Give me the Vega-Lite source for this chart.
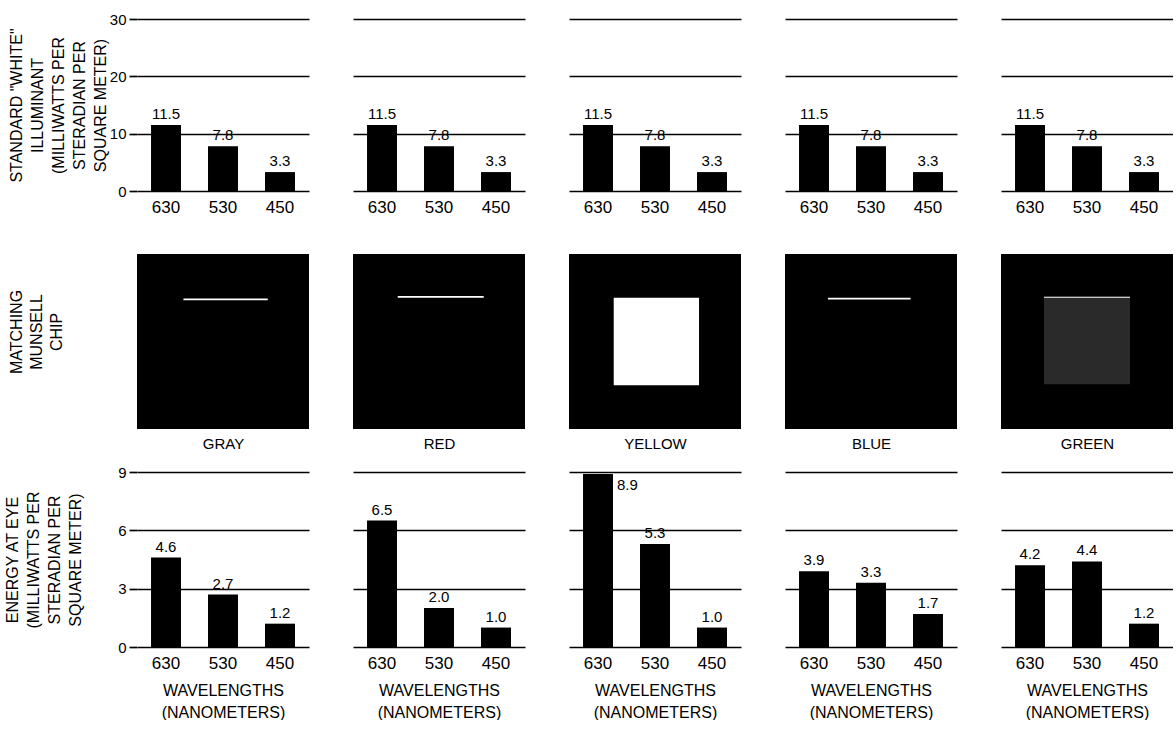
{
  "$schema": "https://vega.github.io/schema/vega-lite/v6.json",
  "background": "white",
  "padding": {"left": 4, "top": 12, "right": 0, "bottom": 0},
  "datasets": {
    "illuminant": [
      {"chip": "GRAY", "wavelength": 630, "value": 11.5}, {"chip": "GRAY", "wavelength": 530, "value": 7.8}, {"chip": "GRAY", "wavelength": 450, "value": 3.3},
      {"chip": "RED", "wavelength": 630, "value": 11.5}, {"chip": "RED", "wavelength": 530, "value": 7.8}, {"chip": "RED", "wavelength": 450, "value": 3.3},
      {"chip": "YELLOW", "wavelength": 630, "value": 11.5}, {"chip": "YELLOW", "wavelength": 530, "value": 7.8}, {"chip": "YELLOW", "wavelength": 450, "value": 3.3},
      {"chip": "BLUE", "wavelength": 630, "value": 11.5}, {"chip": "BLUE", "wavelength": 530, "value": 7.8}, {"chip": "BLUE", "wavelength": 450, "value": 3.3},
      {"chip": "GREEN", "wavelength": 630, "value": 11.5}, {"chip": "GREEN", "wavelength": 530, "value": 7.8}, {"chip": "GREEN", "wavelength": 450, "value": 3.3}
    ],
    "energy": [
      {"chip": "GRAY", "wavelength": 630, "value": 4.6}, {"chip": "GRAY", "wavelength": 530, "value": 2.7}, {"chip": "GRAY", "wavelength": 450, "value": 1.2},
      {"chip": "RED", "wavelength": 630, "value": 6.5}, {"chip": "RED", "wavelength": 530, "value": 2.0}, {"chip": "RED", "wavelength": 450, "value": 1.0},
      {"chip": "YELLOW", "wavelength": 630, "value": 8.9}, {"chip": "YELLOW", "wavelength": 530, "value": 5.3}, {"chip": "YELLOW", "wavelength": 450, "value": 1.0},
      {"chip": "BLUE", "wavelength": 630, "value": 3.9}, {"chip": "BLUE", "wavelength": 530, "value": 3.3}, {"chip": "BLUE", "wavelength": 450, "value": 1.7},
      {"chip": "GREEN", "wavelength": 630, "value": 4.2}, {"chip": "GREEN", "wavelength": 530, "value": 4.4}, {"chip": "GREEN", "wavelength": 450, "value": 1.2}
    ],
    "chips": [
      {"chip": "GRAY", "part": "chip", "x1": 0, "x2": 1, "y1": 0, "y2": 1},
      {"chip": "GRAY", "part": "highlight", "x1": 0.27, "x2": 0.76, "y1": 0.735, "y2": 0.745},
      {"chip": "RED", "part": "chip", "x1": 0, "x2": 1, "y1": 0, "y2": 1},
      {"chip": "RED", "part": "highlight", "x1": 0.26, "x2": 0.76, "y1": 0.75, "y2": 0.76},
      {"chip": "YELLOW", "part": "chip", "x1": 0, "x2": 1, "y1": 0, "y2": 1},
      {"chip": "YELLOW", "part": "highlight", "x1": 0.26, "x2": 0.756, "y1": 0.25, "y2": 0.75},
      {"chip": "BLUE", "part": "chip", "x1": 0, "x2": 1, "y1": 0, "y2": 1},
      {"chip": "BLUE", "part": "highlight", "x1": 0.25, "x2": 0.73, "y1": 0.74, "y2": 0.75},
      {"chip": "GREEN", "part": "chip", "x1": 0, "x2": 1, "y1": 0, "y2": 1},
      {"chip": "GREEN", "part": "inner", "x1": 0.25, "x2": 0.75, "y1": 0.255, "y2": 0.755},
      {"chip": "GREEN", "part": "highlight", "x1": 0.25, "x2": 0.75, "y1": 0.75, "y2": 0.756}
    ]
  },
  "columns": 5,
  "spacing": {"row": 43, "column": 44},
  "bounds": "flush",
  "align": "each",
  "concat": [
    {
      "width": 172, "height": 172,
      "data": {"name": "illuminant"},
      "transform": [{"filter": "datum.chip === 'GRAY'"}],
      "encoding": {
        "x": {"field": "wavelength", "type": "ordinal", "sort": "descending", "scale": {"paddingInner": 0.474, "paddingOuter": 0.246}, "axis": {"title": null, "domain": false, "ticks": false, "labelAngle": 0, "labelFontSize": 17, "labelPadding": 8}},
        "y": {"field": "value", "type": "quantitative", "scale": {"domain": [0, 30], "nice": false}, "axis": {"values": [0, 10, 20, 30], "grid": true, "domain": false, "tickSize": 8, "labelPadding": 3, "title": ["STANDARD \"WHITE\"", "ILLUMINANT", "(MILLIWATTS PER", "STERADIAN PER", "SQUARE METER)"], "titleX": -113, "titleLineHeight": 21}}
      },
      "layer": [
        {"mark": {"type": "bar", "color": "black"}},
        {"mark": {"type": "text", "baseline": "alphabetic", "dy": -6, "fontSize": 15}, "encoding": {"text": {"field": "value", "type": "quantitative", "format": ".1f"}}}
      ]
    },
    {
      "width": 172, "height": 172,
      "data": {"name": "illuminant"},
      "transform": [{"filter": "datum.chip === 'RED'"}],
      "encoding": {
        "x": {"field": "wavelength", "type": "ordinal", "sort": "descending", "scale": {"paddingInner": 0.474, "paddingOuter": 0.246}, "axis": {"title": null, "domain": false, "ticks": false, "labelAngle": 0, "labelFontSize": 17, "labelPadding": 8}},
        "y": {"field": "value", "type": "quantitative", "scale": {"domain": [0, 30], "nice": false}, "axis": {"values": [0, 10, 20, 30], "grid": true, "domain": false, "ticks": false, "labels": false, "title": null}}
      },
      "layer": [
        {"mark": {"type": "bar", "color": "black"}},
        {"mark": {"type": "text", "baseline": "alphabetic", "dy": -6, "fontSize": 15}, "encoding": {"text": {"field": "value", "type": "quantitative", "format": ".1f"}}}
      ]
    },
    {
      "width": 172, "height": 172,
      "data": {"name": "illuminant"},
      "transform": [{"filter": "datum.chip === 'YELLOW'"}],
      "encoding": {
        "x": {"field": "wavelength", "type": "ordinal", "sort": "descending", "scale": {"paddingInner": 0.474, "paddingOuter": 0.246}, "axis": {"title": null, "domain": false, "ticks": false, "labelAngle": 0, "labelFontSize": 17, "labelPadding": 8}},
        "y": {"field": "value", "type": "quantitative", "scale": {"domain": [0, 30], "nice": false}, "axis": {"values": [0, 10, 20, 30], "grid": true, "domain": false, "ticks": false, "labels": false, "title": null}}
      },
      "layer": [
        {"mark": {"type": "bar", "color": "black"}},
        {"mark": {"type": "text", "baseline": "alphabetic", "dy": -6, "fontSize": 15}, "encoding": {"text": {"field": "value", "type": "quantitative", "format": ".1f"}}}
      ]
    },
    {
      "width": 172, "height": 172,
      "data": {"name": "illuminant"},
      "transform": [{"filter": "datum.chip === 'BLUE'"}],
      "encoding": {
        "x": {"field": "wavelength", "type": "ordinal", "sort": "descending", "scale": {"paddingInner": 0.474, "paddingOuter": 0.246}, "axis": {"title": null, "domain": false, "ticks": false, "labelAngle": 0, "labelFontSize": 17, "labelPadding": 8}},
        "y": {"field": "value", "type": "quantitative", "scale": {"domain": [0, 30], "nice": false}, "axis": {"values": [0, 10, 20, 30], "grid": true, "domain": false, "ticks": false, "labels": false, "title": null}}
      },
      "layer": [
        {"mark": {"type": "bar", "color": "black"}},
        {"mark": {"type": "text", "baseline": "alphabetic", "dy": -6, "fontSize": 15}, "encoding": {"text": {"field": "value", "type": "quantitative", "format": ".1f"}}}
      ]
    },
    {
      "width": 172, "height": 172,
      "data": {"name": "illuminant"},
      "transform": [{"filter": "datum.chip === 'GREEN'"}],
      "encoding": {
        "x": {"field": "wavelength", "type": "ordinal", "sort": "descending", "scale": {"paddingInner": 0.474, "paddingOuter": 0.246}, "axis": {"title": null, "domain": false, "ticks": false, "labelAngle": 0, "labelFontSize": 17, "labelPadding": 8}},
        "y": {"field": "value", "type": "quantitative", "scale": {"domain": [0, 30], "nice": false}, "axis": {"values": [0, 10, 20, 30], "grid": true, "domain": false, "ticks": false, "labels": false, "title": null}}
      },
      "layer": [
        {"mark": {"type": "bar", "color": "black"}},
        {"mark": {"type": "text", "baseline": "alphabetic", "dy": -6, "fontSize": 15}, "encoding": {"text": {"field": "value", "type": "quantitative", "format": ".1f"}}}
      ]
    },
    {
      "width": 172, "height": 195,
      "data": {"name": "chips"},
      "transform": [{"filter": "datum.chip === 'GRAY'"}],
      "mark": {"type": "rect"},
      "encoding": {
        "x": {"field": "x1", "type": "quantitative", "scale": {"domain": [0, 1], "nice": false, "zero": false}, "axis": {"title": "GRAY", "labels": false, "ticks": false, "domain": false, "grid": false, "titlePadding": 7, "titleFontSize": 15}},
        "x2": {"field": "x2"},
        "y": {"field": "y1", "type": "quantitative", "scale": {"domain": [0, 1.114], "nice": false, "zero": false}, "axis": {"title": ["MATCHING", "MUNSELL", "CHIP"], "labels": false, "ticks": false, "domain": false, "grid": false, "titleX": -113, "titleLineHeight": 20}},
        "y2": {"field": "y2"},
        "color": {"field": "part", "type": "nominal", "scale": {"domain": ["chip", "highlight", "inner"], "range": ["#000000", "#ffffff", "#2a2a2a"]}, "legend": null}
      }
    },
    {
      "width": 172, "height": 195,
      "data": {"name": "chips"},
      "transform": [{"filter": "datum.chip === 'RED'"}],
      "mark": {"type": "rect"},
      "encoding": {
        "x": {"field": "x1", "type": "quantitative", "scale": {"domain": [0, 1], "nice": false, "zero": false}, "axis": {"title": "RED", "labels": false, "ticks": false, "domain": false, "grid": false, "titlePadding": 7, "titleFontSize": 15}},
        "x2": {"field": "x2"},
        "y": {"field": "y1", "type": "quantitative", "scale": {"domain": [0, 1.114], "nice": false, "zero": false}, "axis": null},
        "y2": {"field": "y2"},
        "color": {"field": "part", "type": "nominal", "scale": {"domain": ["chip", "highlight", "inner"], "range": ["#000000", "#ffffff", "#2a2a2a"]}, "legend": null}
      }
    },
    {
      "width": 172, "height": 195,
      "data": {"name": "chips"},
      "transform": [{"filter": "datum.chip === 'YELLOW'"}],
      "mark": {"type": "rect"},
      "encoding": {
        "x": {"field": "x1", "type": "quantitative", "scale": {"domain": [0, 1], "nice": false, "zero": false}, "axis": {"title": "YELLOW", "labels": false, "ticks": false, "domain": false, "grid": false, "titlePadding": 7, "titleFontSize": 15}},
        "x2": {"field": "x2"},
        "y": {"field": "y1", "type": "quantitative", "scale": {"domain": [0, 1.114], "nice": false, "zero": false}, "axis": null},
        "y2": {"field": "y2"},
        "color": {"field": "part", "type": "nominal", "scale": {"domain": ["chip", "highlight", "inner"], "range": ["#000000", "#ffffff", "#2a2a2a"]}, "legend": null}
      }
    },
    {
      "width": 172, "height": 195,
      "data": {"name": "chips"},
      "transform": [{"filter": "datum.chip === 'BLUE'"}],
      "mark": {"type": "rect"},
      "encoding": {
        "x": {"field": "x1", "type": "quantitative", "scale": {"domain": [0, 1], "nice": false, "zero": false}, "axis": {"title": "BLUE", "labels": false, "ticks": false, "domain": false, "grid": false, "titlePadding": 7, "titleFontSize": 15}},
        "x2": {"field": "x2"},
        "y": {"field": "y1", "type": "quantitative", "scale": {"domain": [0, 1.114], "nice": false, "zero": false}, "axis": null},
        "y2": {"field": "y2"},
        "color": {"field": "part", "type": "nominal", "scale": {"domain": ["chip", "highlight", "inner"], "range": ["#000000", "#ffffff", "#2a2a2a"]}, "legend": null}
      }
    },
    {
      "width": 172, "height": 195,
      "data": {"name": "chips"},
      "transform": [{"filter": "datum.chip === 'GREEN'"}],
      "mark": {"type": "rect"},
      "encoding": {
        "x": {"field": "x1", "type": "quantitative", "scale": {"domain": [0, 1], "nice": false, "zero": false}, "axis": {"title": "GREEN", "labels": false, "ticks": false, "domain": false, "grid": false, "titlePadding": 7, "titleFontSize": 15}},
        "x2": {"field": "x2"},
        "y": {"field": "y1", "type": "quantitative", "scale": {"domain": [0, 1.114], "nice": false, "zero": false}, "axis": null},
        "y2": {"field": "y2"},
        "color": {"field": "part", "type": "nominal", "scale": {"domain": ["chip", "highlight", "inner"], "range": ["#000000", "#ffffff", "#2a2a2a"]}, "legend": null}
      }
    },
    {
      "width": 172, "height": 175,
      "data": {"name": "energy"},
      "transform": [{"filter": "datum.chip === 'GRAY'"}],
      "encoding": {
        "x": {"field": "wavelength", "type": "ordinal", "sort": "descending", "scale": {"paddingInner": 0.474, "paddingOuter": 0.246}, "axis": {"title": ["WAVELENGTHS", "(NANOMETERS)"], "titleLineHeight": 22, "titlePadding": 11, "domain": false, "ticks": false, "labelAngle": 0, "labelFontSize": 17, "labelPadding": 8}},
        "y": {"field": "value", "type": "quantitative", "scale": {"domain": [0, 9], "nice": false}, "axis": {"values": [0, 3, 6, 9], "grid": true, "domain": false, "tickSize": 8, "labelPadding": 3, "title": ["ENERGY AT EYE", "(MILLIWATTS PER", "STERADIAN PER", "SQUARE METER)"], "titleX": -117, "titleLineHeight": 21}}
      },
      "layer": [
        {"mark": {"type": "bar", "color": "black"}},
        {"transform": [{"filter": "datum.value < 8.5"}], "mark": {"type": "text", "baseline": "alphabetic", "dy": -6, "fontSize": 15}, "encoding": {"text": {"field": "value", "type": "quantitative", "format": ".1f"}}},
        {"transform": [{"filter": "datum.value >= 8.5"}], "mark": {"type": "text", "baseline": "top", "align": "left", "dx": 19, "dy": 4, "fontSize": 15}, "encoding": {"text": {"field": "value", "type": "quantitative", "format": ".1f"}}}
      ]
    },
    {
      "width": 172, "height": 175,
      "data": {"name": "energy"},
      "transform": [{"filter": "datum.chip === 'RED'"}],
      "encoding": {
        "x": {"field": "wavelength", "type": "ordinal", "sort": "descending", "scale": {"paddingInner": 0.474, "paddingOuter": 0.246}, "axis": {"title": ["WAVELENGTHS", "(NANOMETERS)"], "titleLineHeight": 22, "titlePadding": 11, "domain": false, "ticks": false, "labelAngle": 0, "labelFontSize": 17, "labelPadding": 8}},
        "y": {"field": "value", "type": "quantitative", "scale": {"domain": [0, 9], "nice": false}, "axis": {"values": [0, 3, 6, 9], "grid": true, "domain": false, "ticks": false, "labels": false, "title": null}}
      },
      "layer": [
        {"mark": {"type": "bar", "color": "black"}},
        {"transform": [{"filter": "datum.value < 8.5"}], "mark": {"type": "text", "baseline": "alphabetic", "dy": -6, "fontSize": 15}, "encoding": {"text": {"field": "value", "type": "quantitative", "format": ".1f"}}},
        {"transform": [{"filter": "datum.value >= 8.5"}], "mark": {"type": "text", "baseline": "top", "align": "left", "dx": 19, "dy": 4, "fontSize": 15}, "encoding": {"text": {"field": "value", "type": "quantitative", "format": ".1f"}}}
      ]
    },
    {
      "width": 172, "height": 175,
      "data": {"name": "energy"},
      "transform": [{"filter": "datum.chip === 'YELLOW'"}],
      "encoding": {
        "x": {"field": "wavelength", "type": "ordinal", "sort": "descending", "scale": {"paddingInner": 0.474, "paddingOuter": 0.246}, "axis": {"title": ["WAVELENGTHS", "(NANOMETERS)"], "titleLineHeight": 22, "titlePadding": 11, "domain": false, "ticks": false, "labelAngle": 0, "labelFontSize": 17, "labelPadding": 8}},
        "y": {"field": "value", "type": "quantitative", "scale": {"domain": [0, 9], "nice": false}, "axis": {"values": [0, 3, 6, 9], "grid": true, "domain": false, "ticks": false, "labels": false, "title": null}}
      },
      "layer": [
        {"mark": {"type": "bar", "color": "black"}},
        {"transform": [{"filter": "datum.value < 8.5"}], "mark": {"type": "text", "baseline": "alphabetic", "dy": -6, "fontSize": 15}, "encoding": {"text": {"field": "value", "type": "quantitative", "format": ".1f"}}},
        {"transform": [{"filter": "datum.value >= 8.5"}], "mark": {"type": "text", "baseline": "top", "align": "left", "dx": 19, "dy": 4, "fontSize": 15}, "encoding": {"text": {"field": "value", "type": "quantitative", "format": ".1f"}}}
      ]
    },
    {
      "width": 172, "height": 175,
      "data": {"name": "energy"},
      "transform": [{"filter": "datum.chip === 'BLUE'"}],
      "encoding": {
        "x": {"field": "wavelength", "type": "ordinal", "sort": "descending", "scale": {"paddingInner": 0.474, "paddingOuter": 0.246}, "axis": {"title": ["WAVELENGTHS", "(NANOMETERS)"], "titleLineHeight": 22, "titlePadding": 11, "domain": false, "ticks": false, "labelAngle": 0, "labelFontSize": 17, "labelPadding": 8}},
        "y": {"field": "value", "type": "quantitative", "scale": {"domain": [0, 9], "nice": false}, "axis": {"values": [0, 3, 6, 9], "grid": true, "domain": false, "ticks": false, "labels": false, "title": null}}
      },
      "layer": [
        {"mark": {"type": "bar", "color": "black"}},
        {"transform": [{"filter": "datum.value < 8.5"}], "mark": {"type": "text", "baseline": "alphabetic", "dy": -6, "fontSize": 15}, "encoding": {"text": {"field": "value", "type": "quantitative", "format": ".1f"}}},
        {"transform": [{"filter": "datum.value >= 8.5"}], "mark": {"type": "text", "baseline": "top", "align": "left", "dx": 19, "dy": 4, "fontSize": 15}, "encoding": {"text": {"field": "value", "type": "quantitative", "format": ".1f"}}}
      ]
    },
    {
      "width": 172, "height": 175,
      "data": {"name": "energy"},
      "transform": [{"filter": "datum.chip === 'GREEN'"}],
      "encoding": {
        "x": {"field": "wavelength", "type": "ordinal", "sort": "descending", "scale": {"paddingInner": 0.474, "paddingOuter": 0.246}, "axis": {"title": ["WAVELENGTHS", "(NANOMETERS)"], "titleLineHeight": 22, "titlePadding": 11, "domain": false, "ticks": false, "labelAngle": 0, "labelFontSize": 17, "labelPadding": 8}},
        "y": {"field": "value", "type": "quantitative", "scale": {"domain": [0, 9], "nice": false}, "axis": {"values": [0, 3, 6, 9], "grid": true, "domain": false, "ticks": false, "labels": false, "title": null}}
      },
      "layer": [
        {"mark": {"type": "bar", "color": "black"}},
        {"transform": [{"filter": "datum.value < 8.5"}], "mark": {"type": "text", "baseline": "alphabetic", "dy": -6, "fontSize": 15}, "encoding": {"text": {"field": "value", "type": "quantitative", "format": ".1f"}}},
        {"transform": [{"filter": "datum.value >= 8.5"}], "mark": {"type": "text", "baseline": "top", "align": "left", "dx": 19, "dy": 4, "fontSize": 15}, "encoding": {"text": {"field": "value", "type": "quantitative", "format": ".1f"}}}
      ]
    }
  ],
  "config": {
    "font": "Liberation Sans",
    "view": {"stroke": null},
    "axis": {"gridColor": "black", "gridWidth": 1.7, "gridOpacity": 1, "tickColor": "black", "tickWidth": 1.7, "labelColor": "black", "titleColor": "black", "titleFontWeight": "normal", "titleFontSize": 16, "labelFontSize": 15},
    "text": {"color": "black"}
  }
}
